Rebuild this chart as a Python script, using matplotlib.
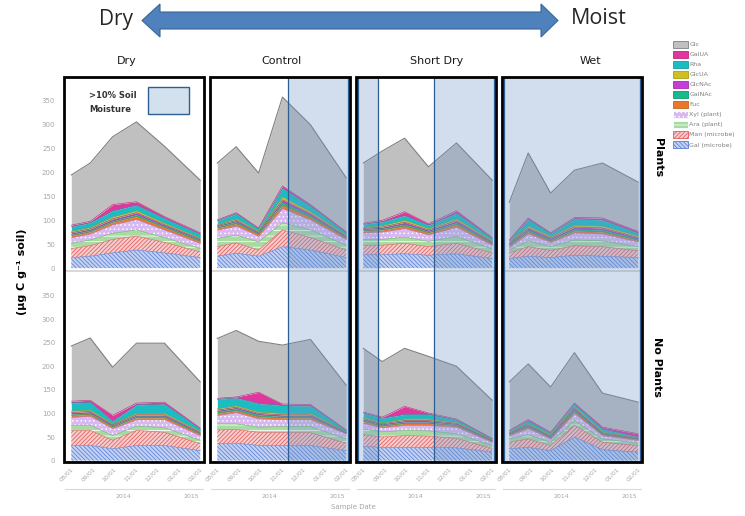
import matplotlib.pyplot as plt
import matplotlib.dates as mdates
import matplotlib.transforms as mtransforms
from matplotlib.patches import Rectangle, Polygon, Patch
import numpy as np
import pandas as pd

plt.rcParams['hatch.linewidth'] = 0.55

# ---- data -------------------------------------------------------------
sample_dates = pd.to_datetime(['2014-08-01', '2014-08-28', '2014-09-29',
                               '2014-11-02', '2014-12-12', '2015-02-01'])
month_ticks = pd.to_datetime(['2014-08-01', '2014-09-01', '2014-10-01', '2014-11-01',
                              '2014-12-01', '2015-01-01', '2015-02-01'])
treatments = ['Dry', 'Control', 'Short Dry', 'Wet']
row_names = ['Plants', 'No Plants']
sugars = ['Gal (microbe)', 'Man (microbe)', 'Ara (plant)', 'Xyl (plant)', 'Fuc',
          'GalNAc', 'GlcNAc', 'GlcUA', 'Rha', 'GalUA', 'Glc']

# ug C / g soil, one row per sugar in stacking order (Gal ... Glc)
plants_dry = [[22, 25, 32, 38, 32, 22], [19, 22, 28, 29, 22, 12], [11, 12, 13, 13, 10, 7],
              [12, 13, 18, 22, 16, 11], [4, 4, 5, 6, 5, 4], [3, 3, 3, 4, 3, 3],
              [3, 3, 4, 4, 3, 2], [3, 3, 4, 4, 3, 2], [10, 10, 13, 12, 10, 8],
              [3, 3, 13, 7, 4, 3], [105, 122, 142, 167, 147, 110]]
plants_control = [[25, 31, 25, 45, 38, 22], [20, 22, 13, 35, 26, 16], [17, 16, 17, 15, 16, 10],
                  [18, 19, 12, 30, 21, 12], [4, 5, 3, 7, 5, 3], [3, 4, 3, 6, 4, 2],
                  [2, 3, 2, 5, 4, 2], [2, 3, 2, 6, 4, 2], [8, 11, 5, 18, 12, 5],
                  [2, 2, 2, 5, 3, 2], [119, 138, 115, 186, 167, 113]]
plants_short = [[28, 28, 30, 27, 30, 20], [20, 20, 22, 18, 22, 12], [12, 12, 13, 11, 14, 8],
                [14, 16, 18, 14, 20, 8], [4, 4, 5, 4, 5, 3], [3, 3, 4, 3, 4, 2],
                [2, 3, 4, 3, 4, 2], [2, 3, 4, 3, 4, 2], [7, 8, 10, 7, 12, 5],
                [2, 3, 8, 3, 5, 2], [126, 145, 154, 119, 142, 120]]
plants_wet = [[20, 25, 22, 27, 25, 22], [12, 20, 15, 20, 20, 14], [6, 12, 8, 12, 12, 9],
              [6, 15, 9, 15, 15, 10], [3, 4, 3, 4, 4, 3], [2, 4, 3, 4, 4, 3],
              [2, 4, 3, 4, 4, 3], [2, 4, 3, 4, 4, 3], [4, 14, 6, 13, 13, 6],
              [2, 3, 2, 3, 4, 4], [79, 136, 83, 99, 115, 103]]
noplants_dry = [[32, 32, 25, 32, 32, 21], [32, 32, 18, 32, 28, 15], [11, 11, 10, 9, 10, 7],
                [17, 19, 15, 14, 17, 10], [4, 4, 3, 4, 4, 3], [3, 3, 3, 3, 3, 2],
                [3, 3, 2, 3, 3, 2], [3, 3, 2, 3, 3, 2], [17, 17, 6, 18, 20, 5],
                [4, 4, 12, 4, 4, 2], [117, 132, 102, 127, 125, 98]]
noplants_control = [[36, 37, 32, 32, 32, 21], [29, 29, 28, 28, 27, 16], [13, 12, 11, 12, 13, 9],
                    [18, 24, 18, 15, 15, 11], [4, 4, 4, 4, 4, 1], [4, 4, 4, 3, 3, 1],
                    [3, 3, 3, 3, 3, 1], [3, 3, 3, 3, 3, 1], [20, 17, 18, 17, 16, 3],
                    [2, 2, 24, 3, 3, 1], [127, 141, 108, 125, 138, 95]]
noplants_short = [[30, 28, 28, 28, 27, 18], [25, 22, 25, 24, 20, 8], [12, 11, 11, 11, 10, 6],
                  [12, 9, 11, 12, 14, 7], [4, 3, 4, 4, 3, 2], [3, 3, 3, 3, 3, 1],
                  [3, 2, 3, 3, 2, 1], [3, 2, 3, 3, 2, 1], [9, 10, 10, 10, 5, 2],
                  [2, 2, 17, 3, 2, 1], [135, 118, 123, 120, 112, 81]]
noplants_wet = [[25, 28, 21, 50, 23, 18], [14, 18, 11, 25, 16, 14], [7, 9, 7, 10, 7, 5],
                [7, 13, 7, 15, 7, 6], [2, 3, 2, 4, 2, 2], [2, 3, 2, 4, 2, 1],
                [2, 2, 2, 3, 2, 1], [1, 2, 2, 3, 2, 1], [3, 6, 4, 6, 6, 2],
                [1, 3, 2, 2, 4, 7], [103, 118, 96, 107, 72, 67]]

# periods with >10% soil moisture (start, end) per treatment
moist_periods = {
    'Dry': [],
    'Control': [('2014-11-10', None)],
    'Short Dry': [(None, '2014-08-22'), ('2014-11-10', None)],
    'Wet': [(None, None)],
}

# face colour, hatch, hatch colour, outline colour
styles = {
    'Gal (microbe)': ('#c3d1f3', '\\\\\\\\\\\\\\\\', '#5a7fd6', '#5a7fd6'),
    'Man (microbe)': ('#f6cccc', '////////', '#e05c5c', '#e05c5c'),
    'Ara (plant)': ('#a8dba2', '---', '#ffffff', '#5fb85f'),
    'Xyl (plant)': ('#d8b8f0', '....', '#ffffff', '#b07fe0'),
    'Fuc': ('#e8782a', None, '#e8782a', '#c8641e'),
    'GalNAc': ('#19b98e', None, '#19b98e', '#12986f'),
    'GlcNAc': ('#c73bd6', None, '#c73bd6', '#a22db0'),
    'GlcUA': ('#cfc021', None, '#cfc021', '#ab9e17'),
    'Rha': ('#1cbdc2', None, '#1cbdc2', '#14a0a4'),
    'GalUA': ('#e0379f', None, '#e0379f', '#c02580'),
    'Glc': ('#c0c0c0', None, '#c0c0c0', '#808080'),
}

panels = [[plants_dry, plants_control, plants_short, plants_wet],
          [noplants_dry, noplants_control, noplants_short, noplants_wet]]

# ---- figure -----------------------------------------------------------
W, H = 745, 516
fig = plt.figure(figsize=(W / 100, H / 100), dpi=100)


def px_rect(left, top, right, bottom):
    return [left / W, 1 - bottom / H, (right - left) / W, (bottom - top) / H]


col_left = [65, 211, 357, 503]
col_width = 138
row_box = [(77, 271), (272, 462)]
xlim = (pd.Timestamp('2014-07-23'), pd.Timestamp('2015-02-05'))
grey_txt = '#a6a6a6'

top_axes = []
for r in range(2):
    for c in range(4):
        ax = fig.add_axes(px_rect(col_left[c], row_box[r][0], col_left[c] + col_width, row_box[r][1]))
        base = np.zeros(len(sample_dates))
        for name, vals in zip(sugars, panels[r][c]):
            top = base + np.array(vals)
            face, hatch, hcol, lcol = styles[name]
            ax.fill_between(sample_dates, base, top, facecolor=face, hatch=hatch,
                            edgecolor=hcol, linewidth=0)
            ax.plot(sample_dates, top, color=lcol, lw=0.4 if name != 'Glc' else 0.8)
            base = top
        ax.set_xlim(xlim)
        ax.set_ylim(-6 if r == 0 else -3, 400)
        ax.set_facecolor('none')
        for s in ['top', 'right', 'left']:
            ax.spines[s].set_visible(False)
        ax.spines['bottom'].set_color('#d9d9d9')
        ax.spines['bottom'].set_linewidth(1.5)
        ax.set_xticks(month_ticks)
        ax.tick_params(length=0)
        ax.set_yticks(range(0, 351, 50))
        ax.tick_params(axis='y', labelsize=5, labelcolor=grey_txt, pad=7)
        if c > 0:
            ax.set_yticklabels([])
        if r == 0:
            ax.set_xticklabels([])
            top_axes.append(ax)
        else:
            ax.set_xticklabels([d.strftime('%m/%d') for d in month_ticks], rotation=45,
                               ha='right', rotation_mode='anchor', fontsize=4.5, color=grey_txt)
            ax.tick_params(axis='x', pad=3)
            # year level of the date axis
            tr = mtransforms.blended_transform_factory(ax.transData, ax.transAxes)
            jan = pd.Timestamp('2015-01-01')
            ax.plot([xlim[0], jan - pd.Timedelta(days=1)], [-0.142, -0.142], transform=tr,
                    color='#d9d9d9', lw=0.8, clip_on=False)
            ax.plot([jan + pd.Timedelta(days=1), xlim[1]], [-0.142, -0.142], transform=tr,
                    color='#d9d9d9', lw=0.8, clip_on=False)
            ax.text(pd.Timestamp('2014-10-15'), -0.18, '2014', transform=tr, ha='center',
                    va='center', fontsize=4.5, color=grey_txt)
            ax.text(pd.Timestamp('2015-01-20'), -0.18, '2015', transform=tr, ha='center',
                    va='center', fontsize=4.5, color=grey_txt)

# moisture shading over both rows, frames around each treatment
y_lo = 1 - row_box[1][1] / H
y_hi = 1 - row_box[0][0] / H
for c, treat in enumerate(treatments):
    ax = top_axes[c]
    tr = mtransforms.blended_transform_factory(ax.transData, fig.transFigure)
    for start, end in moist_periods[treat]:
        x0 = mdates.date2num(pd.Timestamp(start) if start else xlim[0] + pd.Timedelta(days=2))
        x1 = mdates.date2num(pd.Timestamp(end) if end else xlim[1] - pd.Timedelta(days=1))
        fig.add_artist(Rectangle((x0, y_lo), x1 - x0, y_hi - y_lo, transform=tr,
                                 facecolor=(0.42, 0.58, 0.77, 0.3), edgecolor='#2f5e93',
                                 lw=0.9, zorder=3))
    fig.add_artist(Rectangle(((col_left[c] - 1) / W, 1 - 462 / H), (col_width + 2) / W,
                             (462 - 77) / H, transform=fig.transFigure, fill=False,
                             edgecolor='black', lw=2.0, zorder=4))

# overlay in pixel space for annotations
ov = fig.add_axes([0, 0, 1, 1], zorder=5)
ov.set_xlim(0, W)
ov.set_ylim(H, 0)
ov.axis('off')

arrow = [(142, 20.5), (160, 4), (160, 12), (541, 12), (541, 4), (558, 20.5),
         (541, 37), (541, 29), (160, 29), (160, 37)]
ov.add_patch(Polygon(arrow, closed=True, facecolor='#4f81bd', edgecolor='#3b6696', lw=0.8))
ov.text(116, 20, 'Dry', fontsize=15, ha='center', va='center', family='Open Sans', color='#262626')
ov.text(599, 19, 'Moist', fontsize=15.5, ha='center', va='center', family='Open Sans', color='#262626')

title_x = [127, 281, 437, 590]
for tx, treat in zip(title_x, treatments):
    ov.text(tx, 61, treat, fontsize=8, ha='center', va='center', color='#1a1a1a')

ov.text(658, 158, row_names[0], rotation=-90, fontsize=8, fontweight='bold', ha='center', va='center')
ov.text(657, 367, row_names[1], rotation=-90, fontsize=8, fontweight='bold', ha='center', va='center')
ov.text(22, 272, '(µg C g⁻¹ soil)', rotation=90, fontsize=8, fontweight='bold', ha='center', va='center')
ov.text(353, 507, 'Sample Date', fontsize=5, ha='center', va='center', color=grey_txt)

ov.text(89, 95, '>10% Soil', fontsize=6, fontweight='bold', ha='left', va='center', color='#333333')
ov.text(89, 110, 'Moisture', fontsize=6, fontweight='bold', ha='left', va='center', color='#333333')
ov.add_patch(Rectangle((148, 87), 41, 27, facecolor='#d3e0ee', edgecolor='#2f5e93', lw=1))

handles = []
for name in sugars[::-1]:
    face, hatch, hcol, lcol = styles[name]
    handles.append(Patch(facecolor=face, hatch=hatch, edgecolor=hcol if hatch else lcol,
                         lw=0.6, label=name))
fig.legend(handles=handles, loc='upper left', bbox_to_anchor=(670 / W, 1 - 38 / H),
           frameon=False, fontsize=4.5, handlelength=2.4, handleheight=1.4,
           labelspacing=0.45, handletextpad=0.3, labelcolor='#7f7f7f', borderaxespad=0)

fig.savefig('out.png', dpi=100)
